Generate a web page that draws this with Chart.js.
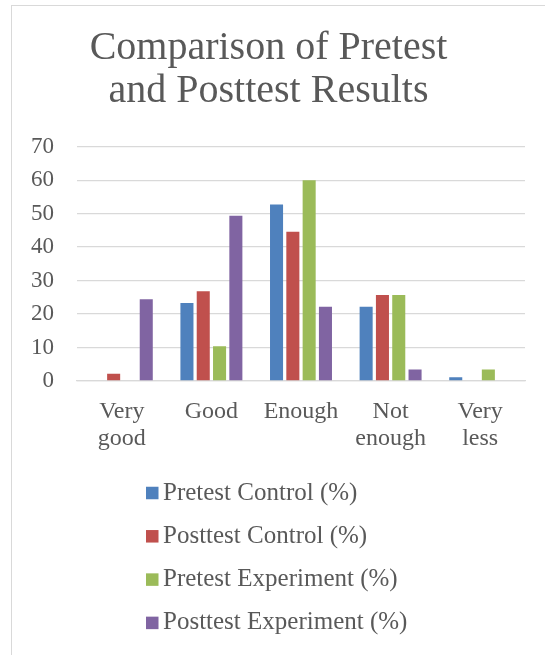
<!DOCTYPE html>
<html>
<head>
<meta charset="utf-8">
<script src="https://cdn.jsdelivr.net/npm/chart.js@4.4.1/dist/chart.umd.min.js"></script>
<style>
  html, body { margin: 0; padding: 0; background: #ffffff; overflow: hidden; }
  #frame { position: absolute; left: 11px; top: 5px; width: 700px; height: 800px;
           border-left: 1.3px solid #d9d9d9; border-top: 1.3px solid #d9d9d9; }
  #wrap { position: absolute; left: 12px; top: 5px; width: 545px; height: 650px; }
</style>
</head>
<body>
<div id="frame"></div>
<div id="wrap"><canvas id="c" width="545" height="650"></canvas></div>
<script>
const categories = [['Very', 'good'], 'Good', 'Enough', ['Not', 'enough'], ['Very', 'less']];
const seriesNames = ['Pretest Control (%)', 'Posttest Control (%)', 'Pretest Experiment (%)', 'Posttest Experiment (%)'];
const pretestControl = [0, 23.3, 52.7, 22.2, 1.1];
const posttestControl = [2.2, 26.8, 44.6, 25.7, 0];
const pretestExperiment = [0, 10.4, 60, 25.7, 3.4];
const posttestExperiment = [24.4, 49.4, 22.2, 3.4, 0];
const seriesColors = ['#4F81BD', '#C0504D', '#9BBB59', '#8064A2'];
const yTicks = [0, 10, 20, 30, 40, 50, 60, 70];
const titleLines = ['Comparison of Pretest', 'and Posttest Results'];

const TEXT = '#595959';
const GRID = '#d9d9d9';
Chart.defaults.font.family = "'Liberation Serif', serif";
Chart.defaults.color = TEXT;

const verticalLegend = {
  id: 'verticalLegend',
  afterDraw(chart, args, opts) {
    const ctx = chart.ctx;
    ctx.save();
    ctx.font = opts.size + "px 'Liberation Serif', serif";
    ctx.textBaseline = 'middle';
    ctx.textAlign = 'left';
    chart.data.datasets.forEach((ds, i) => {
      const y = opts.top + i * opts.spacing;
      ctx.fillStyle = ds.backgroundColor;
      ctx.fillRect(opts.left, y - opts.box / 2, opts.box, opts.box);
      ctx.fillStyle = opts.color;
      ctx.fillText(ds.label, opts.left + opts.box + opts.gap, y);
    });
    ctx.restore();
  }
};

const seriesData = [pretestControl, posttestControl, pretestExperiment, posttestExperiment];

new Chart(document.getElementById('c'), {
  type: 'bar',
  data: {
    labels: categories,
    datasets: seriesNames.map((name, i) => ({
      label: name,
      data: seriesData[i],
      backgroundColor: seriesColors[i],
      borderWidth: 0,
      categoryPercentage: 0.728,
      barPercentage: 0.8
    }))
  },
  options: {
    responsive: false,
    animation: false,
    devicePixelRatio: 1,
    layout: { padding: { left: 0, right: 32, top: 0, bottom: 194 } },
    plugins: {
      legend: { display: false },
      tooltip: { enabled: false },
      title: {
        display: true,
        text: titleLines,
        color: TEXT,
        font: { size: 40, weight: 'normal', lineHeight: 1.08 },
        padding: { top: 22, bottom: 33.3 }
      },
      verticalLegend: { left: 134, top: 488, spacing: 43.3, box: 12.5, gap: 4.5, size: 25, color: TEXT }
    },
    scales: {
      x: {
        grid: { display: false, drawTicks: false },
        border: { display: true, color: GRID, width: 1.3 },
        ticks: { padding: 17.5, font: { size: 24, lineHeight: 1.125 }, color: TEXT, maxRotation: 0, autoSkip: false },
        afterFit(scale) { scale.height = 80; }
      },
      y: {
        min: 0,
        max: 70,
        afterBuildTicks(scale) { scale.ticks = yTicks.map(v => ({ value: v })); },
        grid: { color: GRID, lineWidth: 1.3, drawTicks: false },
        border: { display: false },
        ticks: { padding: 23, font: { size: 23 }, color: TEXT },
        afterFit(scale) { scale.width = 65; }
      }
    }
  },
  plugins: [verticalLegend]
});
</script>
</body>
</html>
